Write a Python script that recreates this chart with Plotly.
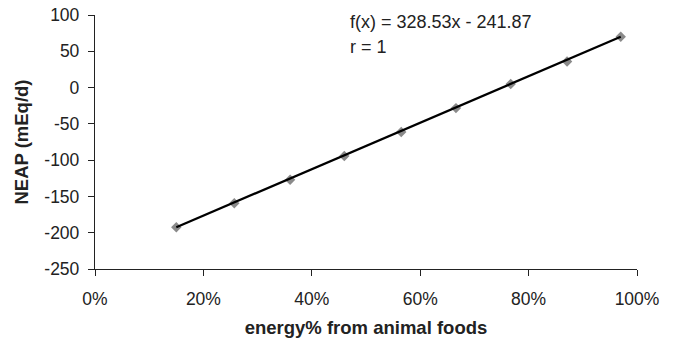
import plotly.graph_objects as go

x_share = [0.150, 0.257, 0.360, 0.460, 0.565, 0.666, 0.767, 0.871, 0.970]
neap = [-192.5, -159.5, -127.0, -94.3, -61.2, -28.3, 5.0, 36.0, 70.0]
trend_x = [0.150, 0.970]
trend_y = [-192.5, 70.0]
eq_text = "f(x) = 328.53x - 241.87"
r_text = "r = 1"
x_ticks = [0, 0.2, 0.4, 0.6, 0.8, 1.0]
x_ticklabels = ["0%", "20%", "40%", "60%", "80%", "100%"]
y_ticks = [-250, -200, -150, -100, -50, 0, 50, 100]
y_ticklabels = ["-250", "-200", "-150", "-100", "-50", "0", "50", "100"]

fig = go.Figure()
fig.add_trace(go.Scatter(x=x_share, y=neap, mode="markers",
                         marker=dict(symbol="diamond", size=8, color="#8a8a8a"),
                         showlegend=False))
fig.add_trace(go.Scatter(x=trend_x, y=trend_y, mode="lines",
                         line=dict(color="black", width=2.3), showlegend=False))

fig.add_annotation(x=0.467, y=90, xref="x", yref="y", text=eq_text, showarrow=False,
                   xanchor="left", yanchor="middle", font=dict(size=18, color="#222"))
fig.add_annotation(x=0.467, y=56, xref="x", yref="y", text=r_text, showarrow=False,
                   xanchor="left", yanchor="middle", font=dict(size=18, color="#222"))

fig.update_layout(
    width=685, height=339,
    margin=dict(l=95, r=48, t=15, b=70),
    plot_bgcolor="white", paper_bgcolor="white",
    font=dict(family="Liberation Sans, Arial, sans-serif", size=17.5, color="#222"),
)
fig.update_xaxes(range=[0, 1], tickvals=x_ticks, ticktext=x_ticklabels, automargin=False,
                 showgrid=False, zeroline=False, showline=True, linecolor="#222", linewidth=1.3,
                 ticks="outside", ticklen=6, tickcolor="#222", ticklabelstandoff=8,
                 title=dict(text="<b>energy% from animal foods</b>", font=dict(size=18.5), standoff=12))
fig.update_yaxes(range=[-250, 100], tickvals=y_ticks, ticktext=y_ticklabels, automargin=False,
                 showgrid=False, zeroline=False, showline=True, linecolor="#222", linewidth=1.3,
                 ticks="outside", ticklen=6, tickcolor="#222", ticklabelstandoff=5,
                 title=dict(text="<b>NEAP (mEq/d)</b>", font=dict(size=18.5), standoff=10))

fig.write_html("out.html", config={"displayModeBar": False},
               post_script="document.body.style.margin='0';")
